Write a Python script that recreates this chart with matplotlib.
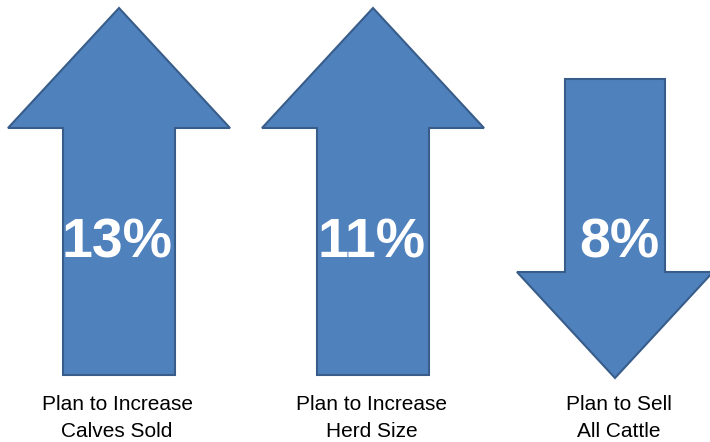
import matplotlib.pyplot as plt
from matplotlib.patches import Polygon

# Data
percents = [13, 11, 8]
directions = ["up", "up", "down"]
labels = ["Plan to Increase\nCalves Sold", "Plan to Increase\nHerd Size", "Plan to Sell\nAll Cattle"]

fill_color = "#4F81BD"
edge_color = "#385D8A"

# arrow layout in pixel coords (x center, top, head base, bottom, head half width, shaft half width)
layout = [
    (119, 8, 128, 375, 111, 56),
    (373, 8, 128, 375, 111, 56),
    (615, 79, 272, 378, 98, 50),
]
text_x = [117, 372, 619]


def arrow_points(cx, top, base, bottom, hw, sw, direction):
    if direction == "up":
        return [(cx, top), (cx + hw, base), (cx + sw, base), (cx + sw, bottom),
                (cx - sw, bottom), (cx - sw, base), (cx - hw, base)]
    return [(cx - sw, top), (cx + sw, top), (cx + sw, base), (cx + hw, base),
            (cx, bottom), (cx - hw, base), (cx - sw, base)]


fig = plt.figure(figsize=(7.1, 4.42), dpi=100)
ax = fig.add_axes([0, 0, 1, 1])
ax.set_xlim(0, 710)
ax.set_ylim(442, 0)
ax.axis("off")

for pct, d, lab, tx, (cx, top, base, bottom, hw, sw) in zip(percents, directions, labels, text_x, layout):
    pts = arrow_points(cx, top, base, bottom, hw, sw, d)
    ax.add_patch(Polygon(pts, closed=True, facecolor=fill_color, edgecolor=edge_color, linewidth=1.5))
    ax.text(tx, 243, f"{pct}%", ha="center", va="center", color="white",
            fontsize=40, fontweight="bold", family="Liberation Sans")
    ax.text(tx, 418, lab, ha="center", va="center", color="black",
            fontsize=15, family="Liberation Sans", linespacing=1.55)

plt.savefig("out.png", dpi=100)
